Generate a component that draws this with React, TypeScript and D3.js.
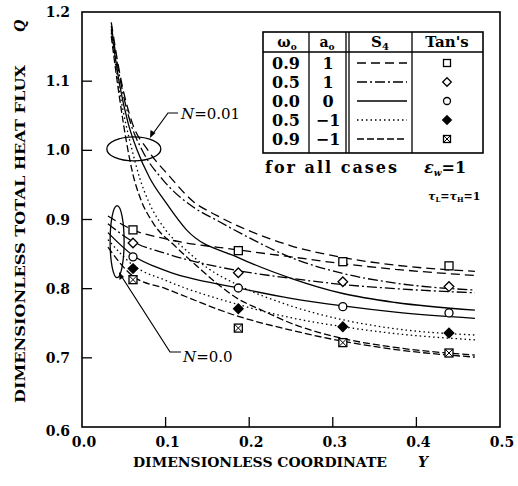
import React from 'react';
import * as d3 from 'd3';

// S4 results, N = 0.0
const xN0 = [0.031, 0.061, 0.1, 0.187, 0.25, 0.312, 0.375, 0.47];
const n0W09A1 = [0.905, 0.885, 0.872, 0.856, 0.846, 0.836, 0.828, 0.819];
const n0W05A1 = [0.894, 0.868, 0.851, 0.826, 0.815, 0.806, 0.8, 0.794];
const n0W00A0 = [0.881, 0.848, 0.826, 0.801, 0.786, 0.775, 0.766, 0.757];
const n0W05Am1 = [0.871, 0.834, 0.812, 0.777, 0.758, 0.745, 0.735, 0.726];
const n0W09Am1 = [0.86, 0.818, 0.8, 0.76, 0.74, 0.724, 0.712, 0.701];

// S4 results, N = 0.01
const x1W09A1 = [0.035, 0.047, 0.06, 0.079, 0.105, 0.133, 0.161, 0.225, 0.25, 0.312, 0.375, 0.47];
const n1W09A1 = [1.185, 1.1, 1.04, 1.0, 0.962, 0.926, 0.906, 0.872, 0.862, 0.845, 0.834, 0.825];
const x1W05A1 = [0.035, 0.046, 0.058, 0.072, 0.097, 0.133, 0.161, 0.193, 0.25, 0.312, 0.375, 0.47];
const n1W05A1 = [1.18, 1.1, 1.04, 1.0, 0.957, 0.918, 0.899, 0.878, 0.845, 0.822, 0.808, 0.798];
const x1W00A0 = [0.035, 0.045, 0.055, 0.066, 0.081, 0.1, 0.125, 0.187, 0.25, 0.312, 0.375, 0.47];
const n1W00A0 = [1.175, 1.095, 1.04, 1.0, 0.96, 0.925, 0.885, 0.845, 0.815, 0.793, 0.78, 0.769];
const x1W05Am1 = [0.035, 0.045, 0.06, 0.069, 0.08, 0.1, 0.125, 0.15, 0.187, 0.25, 0.312, 0.375, 0.47];
const n1W05Am1 = [1.17, 1.085, 1.0, 0.96, 0.925, 0.885, 0.855, 0.83, 0.805, 0.775, 0.755, 0.742, 0.733];
const x1W09Am1 = [0.035, 0.045, 0.055, 0.061, 0.07, 0.085, 0.111, 0.14, 0.161, 0.187, 0.213, 0.25, 0.312, 0.375, 0.47];
const n1W09Am1 = [1.165, 1.075, 1.0, 0.965, 0.93, 0.895, 0.862, 0.83, 0.808, 0.785, 0.77, 0.75, 0.728, 0.715, 0.704];

// Tan's results
const tanX = [0.061, 0.187, 0.312, 0.439];
const tanW09A1 = [0.885, 0.855, 0.839, 0.833];
const tanW05A1 = [0.866, 0.823, 0.81, 0.803];
const tanW00A0 = [0.846, 0.801, 0.774, 0.765];
const tanW05Am1 = [0.829, 0.771, 0.745, 0.736];
const tanW09Am1 = [0.813, 0.743, 0.722, 0.707];

const omegaLabels = ['0.9', '0.5', '0.0', '0.5', '0.9'];
const aLabels = ['1', '1', '0', '\u22121', '\u22121'];
const dashes = ['9,5', '10,3,2,3', '', '1.5,3', '7,3'];
const markerTypes = ['square', 'diamond', 'circle', 'diamondFilled', 'squareX'];

const xTicks = [0, 0.1, 0.2, 0.3, 0.4, 0.5];
const yTicks = [0.6, 0.7, 0.8, 0.9, 1.0, 1.1, 1.2];

const FONT = '"DejaVu Serif", serif';

const x = d3.scaleLinear().domain([0, 0.5]).range([82, 500]);
const y = d3.scaleLinear().domain([0.6, 1.2]).range([427, 12]);

const line = d3.line<[number, number]>()
  .x(d => x(d[0]))
  .y(d => y(d[1]))
  .curve(d3.curveMonotoneX);

const n0Series = [n0W09A1, n0W05A1, n0W00A0, n0W05Am1, n0W09Am1];
const n1Series = [
  [x1W09A1, n1W09A1],
  [x1W05A1, n1W05A1],
  [x1W00A0, n1W00A0],
  [x1W05Am1, n1W05Am1],
  [x1W09Am1, n1W09Am1],
];
const tanSeries = [tanW09A1, tanW05A1, tanW00A0, tanW05Am1, tanW09Am1];

function Marker({ type, cx, cy, s = 4 }: { type: string; cx: number; cy: number; s?: number }) {
  if (type === 'square') {
    return <rect x={cx - s} y={cy - s} width={2 * s} height={2 * s} fill="white" stroke="black" strokeWidth={1.3} />;
  }
  if (type === 'diamond' || type === 'diamondFilled') {
    const d = s + 0.8;
    return (
      <path
        d={`M${cx},${cy - d}L${cx + d},${cy}L${cx},${cy + d}L${cx - d},${cy}Z`}
        fill={type === 'diamond' ? 'white' : 'black'}
        stroke="black"
        strokeWidth={1.3}
      />
    );
  }
  if (type === 'circle') {
    return <circle cx={cx} cy={cy} r={s} fill="white" stroke="black" strokeWidth={1.3} />;
  }
  return (
    <g>
      <rect x={cx - s} y={cy - s} width={2 * s} height={2 * s} fill="white" stroke="black" strokeWidth={1.3} />
      <path d={`M${cx - s},${cy - s}L${cx + s},${cy + s}M${cx + s},${cy - s}L${cx - s},${cy + s}`} stroke="black" strokeWidth={1} />
    </g>
  );
}

export default function App() {
  // legend table geometry
  const tx0 = 263, tx1 = 483, ty0 = 32, ty1 = 153;
  const colA = 309, colS1 = 346, colS2 = 349, colT = 412;
  const headBottom = 52;
  const rowY = [63, 82, 101, 120, 139];

  return (
    <svg width={518} height={486} style={{ position: 'absolute', left: 0, top: 0, background: 'white' }} fontFamily={FONT}>
      <rect width={518} height={486} fill="white" />
      {/* frame */}
      <rect x={x(0)} y={y(1.2)} width={x(0.5) - x(0)} height={y(0.6) - y(1.2)} fill="none" stroke="black" strokeWidth={1.6} />
      {/* ticks */}
      {xTicks.slice(1, -1).map(t => (
        <line key={'xt' + t} x1={x(t)} x2={x(t)} y1={y(0.6)} y2={y(0.6) - 10} stroke="black" strokeWidth={1.3} />
      ))}
      {yTicks.slice(1, -1).map(t => (
        <line key={'yt' + t} x1={x(0)} x2={x(0) + 10} y1={y(t)} y2={y(t)} stroke="black" strokeWidth={1.3} />
      ))}
      {xTicks.map(t => (
        <text key={'xl' + t} x={x(t) + 2} y={447} fontSize={14} fontWeight="bold" textAnchor="middle">{t.toFixed(1)}</text>
      ))}
      {yTicks.map(t => (
        <text key={'yl' + t} x={70} y={y(t) + 5 + (t === 0.6 ? 4 : 0)} fontSize={14} fontWeight="bold" textAnchor="end">{t.toFixed(1)}</text>
      ))}
      {/* axis titles */}
      <text x={133} y={467} fontSize={13} fontWeight="bold" textLength={254} lengthAdjust="spacingAndGlyphs">DIMENSIONLESS  COORDINATE</text>
      <text x={423} y={467} fontSize={14} fontWeight="bold" fontStyle="italic" textAnchor="middle">Y</text>
      <text transform="translate(25,403) rotate(-90)" fontSize={13} fontWeight="bold" textLength={338} lengthAdjust="spacingAndGlyphs">DIMENSIONLESS TOTAL HEAT FLUX</text>
      <text transform="translate(25,26) rotate(-90)" fontSize={14} fontWeight="bold" fontStyle="italic" textAnchor="middle">Q</text>

      {/* S4 curves */}
      {n0Series.map((vals, i) => (
        <path key={'n0' + i} d={line(xN0.map((xv, j) => [xv, vals[j]] as [number, number])) || ''}
          fill="none" stroke="black" strokeWidth={1.3} strokeDasharray={dashes[i] || undefined} />
      ))}
      {n1Series.map(([xs, vals], i) => (
        <path key={'n1' + i} d={line(xs.map((xv, j) => [xv, vals[j]] as [number, number])) || ''}
          fill="none" stroke="black" strokeWidth={1.3} strokeDasharray={dashes[i] || undefined} />
      ))}
      {/* Tan's markers */}
      {tanSeries.map((vals, i) => vals.map((v, j) => (
        <Marker key={'m' + i + '-' + j} type={markerTypes[i]} cx={x(tanX[j])} cy={y(v)} />
      )))}

      {/* N annotations */}
      <ellipse cx={x(0.062)} cy={y(1.002)} rx={27} ry={12} fill="none" stroke="black" strokeWidth={1.3} />
      <ellipse cx={x(0.042)} cy={y(0.868)} rx={7} ry={36} fill="none" stroke="black" strokeWidth={1.3} />
      <path d="M178,113 L168,113 L152,135" fill="none" stroke="black" strokeWidth={1.2} />
      <path d="M150,138 L150.5,130 L155.5,133 Z" fill="black" />
      <text x={181} y={119} fontSize={15}><tspan fontStyle="italic">N</tspan>=0.01</text>
      <path d="M120,274 L170,352 L181,352" fill="none" stroke="black" strokeWidth={1.2} />
      <path d="M119,272 L119.5,280 L124,277 Z" fill="black" />
      <text x={183} y={362} fontSize={15}><tspan fontStyle="italic">N</tspan>=0.0</text>

      {/* legend table */}
      <rect x={tx0} y={ty0} width={tx1 - tx0} height={ty1 - ty0} fill="white" stroke="black" strokeWidth={1.6} />
      {[colA, colS1, colS2, colT].map(cx => (
        <line key={'c' + cx} x1={cx} x2={cx} y1={ty0} y2={ty1} stroke="black" strokeWidth={1.3} />
      ))}
      <line x1={tx0} x2={tx1} y1={headBottom} y2={headBottom} stroke="black" strokeWidth={1.6} />
      <text x={287} y={47} fontSize={14} fontWeight="bold" textAnchor="middle">ω<tspan fontSize={9} dy={3}>o</tspan></text>
      <text x={327} y={47} fontSize={14} fontWeight="bold" textAnchor="middle">a<tspan fontSize={9} dy={3}>o</tspan></text>
      <text x={380} y={47} fontSize={15} fontWeight="bold" textAnchor="middle">S<tspan fontSize={10} dy={3}>4</tspan></text>
      <text x={447} y={47} fontSize={15} fontWeight="bold" textAnchor="middle">Tan's</text>
      {rowY.map((ry, i) => (
        <g key={'row' + i}>
          <text x={286} y={ry + 6} fontSize={16} fontWeight="bold" textAnchor="middle">{omegaLabels[i]}</text>
          <text x={328} y={ry + 6} fontSize={16} fontWeight="bold" textAnchor="middle">{aLabels[i]}</text>
          <line x1={357} x2={407} y1={ry} y2={ry} stroke="black" strokeWidth={1.3} strokeDasharray={dashes[i] || undefined} />
          <Marker type={markerTypes[i]} cx={447} cy={ry} s={3.5} />
        </g>
      ))}
      <text x={265} y={173} fontSize={16} fontWeight="bold" textLength={132}>for all cases</text>
      <text x={424} y={173} fontSize={16} fontWeight="bold"><tspan fontStyle="italic">ε</tspan><tspan fontSize={9} dy={3} fontStyle="italic">w</tspan><tspan dy={-3}>=1</tspan></text>
      <text x={428} y={200} fontSize={11} fontWeight="bold"><tspan fontStyle="italic">τ</tspan><tspan fontSize={7} dy={2}>L</tspan><tspan dy={-2}>=</tspan><tspan fontStyle="italic">τ</tspan><tspan fontSize={7} dy={2}>H</tspan><tspan dy={-2}>=1</tspan></text>
    </svg>
  );
}
